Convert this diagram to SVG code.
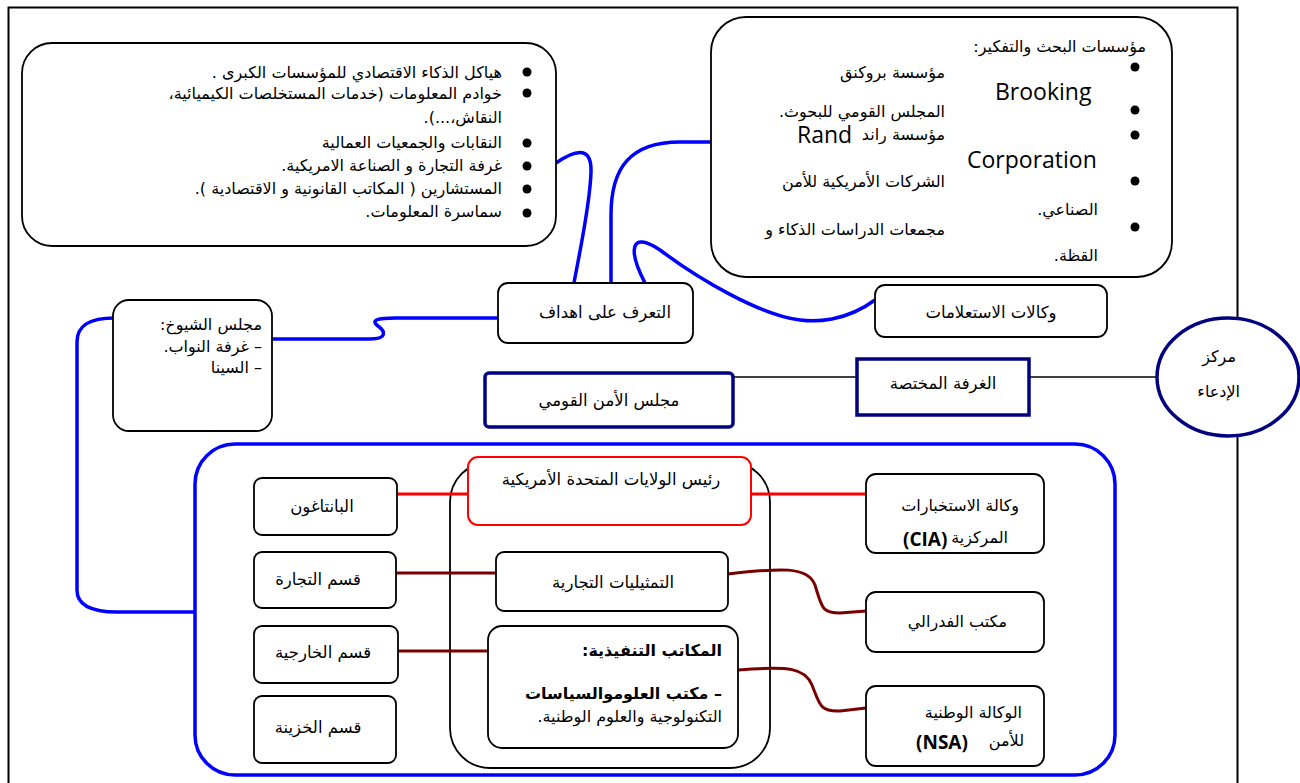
<svg xmlns="http://www.w3.org/2000/svg" width="1300" height="783" viewBox="0 0 1300 783">
  <style>
    .ar { font-family: "DejaVu Sans", "Noto Sans", sans-serif; font-size: 16px; fill: #000; direction: rtl; unicode-bidi: embed; text-anchor: start; }
    .arc { font-family: "DejaVu Sans", "Noto Sans", sans-serif; font-size: 16.5px; fill: #000; text-anchor: middle; }
    .lat { font-family: "Open Sans", "Liberation Sans", sans-serif; fill: #000; }
    .box { fill: #fff; stroke: #000; stroke-width: 1.8; }
    .navy { fill: #fff; stroke: #000080; stroke-width: 3.5; }
    .blue { fill: none; stroke: #0000ff; stroke-width: 3.5; }
    .maroon { fill: none; stroke: #7a0000; stroke-width: 3; }
    .red { fill: none; stroke: #ff0000; stroke-width: 3; }
    .thin { fill: none; stroke: #000; stroke-width: 1.5; }
  </style>

  <!-- page frame -->
  <rect x="8.5" y="7.5" width="1229" height="800" fill="#fff" stroke="#000" stroke-width="2"/>

  <!-- containers -->
  <rect id="executive-area" x="195" y="444" width="920" height="331" rx="40" fill="#fff" stroke="#0000ff" stroke-width="3.5"/>
  <rect id="president-area" x="450" y="462" width="320" height="306" rx="40" fill="none" stroke="#000" stroke-width="1.8"/>

  <!-- connectors -->
  <g id="connectors">
    <path class="thin" d="M733,377 H857"/>
    <path class="thin" d="M1029,377 H1160"/>
    <path class="blue" d="M556,163 C572,152 592,143 591,172 C590,205 580,250 574,283"/>
    <path class="blue" d="M712,142 H680 C630,142 611,168 611,215 V283"/>
    <path class="blue" d="M875,300 C845,322 815,322 800,320 C760,315 700,280 660,250 C630,230 628,250 645,283"/>
    <path class="blue" d="M272,339 H370 C388,339 385,331 378,326 C370,320 378,318 395,318 H498"/>
    <path class="blue" d="M115,318 C90,318 77,325 77,342 V590 C77,605 90,612 117,612 H195"/>
    <path class="red" d="M397,494 H487"/>
    <path class="red" d="M740,494 H866"/>
    <path class="maroon" d="M396,573 H496"/>
    <path class="maroon" d="M398,651 H488"/>
    <path class="maroon" d="M728,574 C780,568 808,566 815,585 C822,608 822,613 840,613 L866,611"/>
    <path class="maroon" d="M738,670 C790,666 805,668 812,685 C820,705 820,712 840,711 L866,708"/>
  </g>

  <!-- economic intelligence actors -->
  <g id="node-economic">
    <rect class="box" x="22" y="43" width="534" height="203" rx="30"/>
    <g fill="#000">
      <circle cx="527" cy="72" r="4.5"/>
      <circle cx="527" cy="93" r="4.5"/>
      <circle cx="527" cy="143" r="4.5"/>
      <circle cx="527" cy="166" r="4.5"/>
      <circle cx="527" cy="189" r="4.5"/>
      <circle cx="527" cy="213" r="4.5"/>
    </g>
    <text class="ar" x="502" y="78">هياكل الذكاء الاقتصادي للمؤسسات الكبرى .</text>
    <text class="ar" x="502" y="99">خوادم المعلومات (خدمات  المستخلصات الكيميائية،</text>
    <text class="ar" x="502" y="123">النقاش،...).</text>
    <text class="ar" x="502" y="148">النقابات والجمعيات العمالية</text>
    <text class="ar" x="502" y="171">غرفة التجارة و الصناعة الامريكية.</text>
    <text class="ar" x="502" y="194">المستشارين ( المكاتب القانونية و الاقتصادية ).</text>
    <text class="ar" x="502" y="217">سماسرة المعلومات.</text>
  </g>

  <!-- think tanks -->
  <g id="node-thinktanks">
    <rect class="box" x="711" y="17" width="461" height="260" rx="35"/>
    <g fill="#000">
      <circle cx="1135" cy="67" r="4.5"/>
      <circle cx="1135" cy="110" r="4.5"/>
      <circle cx="1135" cy="135" r="4.5"/>
      <circle cx="1135" cy="181" r="4.5"/>
      <circle cx="1135" cy="227" r="4.5"/>
    </g>
    <text class="ar" x="1146" y="52">مؤسسات البحث والتفكير:</text>
    <text class="ar" x="945" y="78">مؤسسة  بروكنق</text>
    <text class="lat" x="995" y="100" font-size="23">Brooking</text>
    <text class="ar" x="945" y="117">المجلس القومي للبحوث.</text>
    <text class="ar" x="945" y="140">مؤسسة راند</text>
    <text class="lat" x="797" y="143" font-size="23">Rand</text>
    <text class="lat" x="967" y="168" font-size="23">Corporation</text>
    <text class="ar" x="945" y="187">الشركات الأمريكية للأمن</text>
    <text class="ar" x="1098" y="215">الصناعي.</text>
    <text class="ar" x="945" y="235">مجمعات الدراسات الذكاء و</text>
    <text class="ar" x="1098" y="261">القظة.</text>
  </g>

  <g id="node-targets">
    <rect class="box" x="498" y="283" width="195" height="60" rx="10"/>
    <text class="arc" x="605" y="318">التعرف على اهداف</text>
  </g>

  <g id="node-agencies">
    <rect class="box" x="875" y="285" width="232" height="52" rx="10"/>
    <text class="arc" x="991" y="318">وكالات الاستعلامات</text>
  </g>

  <g id="node-senate">
    <rect class="box" x="113" y="300" width="159" height="131" rx="16"/>
    <text class="ar" x="262" y="330">مجلس الشيوخ:</text>
    <text class="ar" x="262" y="352">– غرفة النواب.</text>
    <text class="ar" x="262" y="373">– السينا</text>
  </g>

  <g id="node-nsc">
    <rect class="navy" x="485" y="373" width="248" height="54" rx="4"/>
    <text class="arc" x="609" y="406">مجلس الأمن القومي</text>
  </g>

  <g id="node-committee">
    <rect class="navy" x="857" y="359" width="172" height="56"/>
    <text class="arc" x="943" y="389">الغرفة المختصة</text>
  </g>

  <g id="node-prosecution">
    <ellipse cx="1228" cy="377" rx="71" ry="59" fill="#fff" stroke="#000080" stroke-width="3.5"/>
    <text class="ar" x="1236" y="362">مركز</text>
    <text class="ar" x="1240" y="397">الإدعاء</text>
  </g>

  <!-- executive branch -->
  <g id="node-president">
    <rect x="468" y="457" width="283" height="68" rx="10" fill="#fff" stroke="#ff0000" stroke-width="2"/>
    <text class="arc" x="611" y="485">رئيس الولايات المتحدة  الأمريكية</text>
  </g>

  <g id="node-pentagon">
    <rect class="box" x="254" y="478" width="143" height="57" rx="8"/>
    <text class="arc" x="322" y="512">البانتاغون</text>
  </g>

  <g id="node-commerce">
    <rect class="box" x="254" y="552" width="142" height="56" rx="8"/>
    <text class="arc" x="318" y="585">قسم التجارة</text>
  </g>

  <g id="node-state">
    <rect class="box" x="254" y="626" width="144" height="57" rx="8"/>
    <text class="arc" x="323" y="658">قسم الخارجية</text>
  </g>

  <g id="node-treasury">
    <rect class="box" x="254" y="696" width="142" height="67" rx="8"/>
    <text class="arc" x="318" y="733">قسم الخزينة</text>
  </g>

  <g id="node-trade-reps">
    <rect class="box" x="496" y="552" width="232" height="59" rx="8"/>
    <text class="arc" x="613" y="588">التمثيليات التجارية</text>
  </g>

  <g id="node-exec-offices">
    <rect class="box" x="488" y="626" width="250" height="122" rx="14"/>
    <text class="ar" x="722" y="656" font-weight="bold">المكاتب التنفيذية:</text>
    <text class="ar" x="722" y="699" font-weight="bold">– مكتب العلوموالسياسات</text>
    <text class="ar" x="722" y="722">التكنولوجية والعلوم الوطنية.</text>
  </g>

  <g id="node-cia">
    <rect class="box" x="866" y="474" width="178" height="79" rx="10"/>
    <text class="ar" x="1019" y="511" font-size="16.5">وكالة الاستخبارات</text>
    <text class="ar" x="1008" y="543" font-size="10">المركزية</text>
    <text class="lat" x="903" y="546" font-size="19" font-weight="bold">(CIA)</text>
  </g>

  <g id="node-fbi">
    <rect class="box" x="866" y="592" width="178" height="60" rx="10"/>
    <text class="ar" x="1007" y="627" font-size="16.5">مكتب الفدرالي</text>
  </g>

  <g id="node-nsa">
    <rect class="box" x="866" y="686" width="178" height="80" rx="10"/>
    <text class="ar" x="1022" y="718" font-size="16.5">الوكالة الوطنية</text>
    <text class="ar" x="1024" y="746">للأمن</text>
    <text class="lat" x="916" y="749" font-size="19" font-weight="bold">(NSA)</text>
  </g>
</svg>
